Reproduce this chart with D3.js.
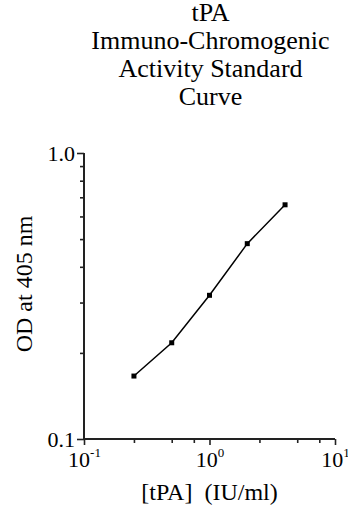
<!DOCTYPE html>
<html>
<head>
<meta charset="utf-8">
<script src="https://cdn.jsdelivr.net/npm/d3@7"></script>
<style>
  body { margin: 0; background: #fff; }
  svg { display: block; font-family: "Liberation Serif", "Times New Roman", serif; }
</style>
</head>
<body>
<svg id="chart" width="348" height="514"></svg>
<script>
// tPA concentration (IU/ml) and OD at 405 nm
const conc = [0.25, 0.5, 1, 2, 4];
const od = [0.166, 0.217, 0.318, 0.482, 0.659];

const titleLines = ["tPA", "Immuno-Chromogenic", "Activity Standard", "Curve"];
const xMajor = [0.1, 1, 10];
const xExp = ["-1", "0", "1"];
const xMinor = [0.25, 0.5, 0.75, 2.5, 5, 7.5];
const yMajor = [0.1, 1];
const yMinor = [0.2, 0.3, 0.4, 0.5, 0.6, 0.7, 0.8, 0.9];

const svg = d3.select("#chart");
const plotL = 84, plotR = 335, plotT = 153, plotB = 439;

const x = d3.scaleLog().domain([0.1, 10]).range([plotL, plotR]);
const y = d3.scaleLog().domain([0.1, 1]).range([plotB, plotT]);

const axisColor = "#222";

// title
svg.append("text")
  .attr("text-anchor", "middle")
  .attr("font-size", 26)
  .selectAll("tspan")
  .data(titleLines)
  .join("tspan")
  .attr("x", (plotL + plotR) / 2 + 1)
  .attr("y", (d, i) => 21 + i * 28)
  .text(d => d);

// minor ticks first
const yMinorAxis = svg.append("g")
  .attr("transform", `translate(${plotL},0)`)
  .call(d3.axisLeft(y).tickValues(yMinor).tickSize(4).tickFormat(""));
const xMinorAxis = svg.append("g")
  .attr("transform", `translate(0,${plotB})`)
  .call(d3.axisBottom(x).tickValues(xMinor).tickSize(4).tickFormat(""));

const yAxis = svg.append("g")
  .attr("transform", `translate(${plotL},0)`)
  .call(d3.axisLeft(y).tickValues(yMajor).tickSize(7).tickPadding(2).tickFormat(d3.format(".1f")));

const xAxis = svg.append("g")
  .attr("transform", `translate(0,${plotB})`)
  .call(d3.axisBottom(x).tickValues(xMajor).tickSize(6).tickPadding(6).tickFormat(""));

[yMinorAxis, xMinorAxis, yAxis, xAxis].forEach(g => {
  g.select(".domain").remove();
  g.selectAll("line").attr("stroke", axisColor).attr("stroke-width", 1.6);
});

yAxis.selectAll("text")
  .attr("font-family", "Liberation Serif")
  .attr("font-size", 22)
  .attr("fill", "#000");

// x labels with superscript exponent
xAxis.selectAll(".tick text")
  .attr("font-family", "Liberation Serif")
  .attr("font-size", 22)
  .attr("fill", "#000")
  .attr("dy", "0.71em")
  .each(function(d, i) {
    const t = d3.select(this);
    t.append("tspan").text("10");
    t.append("tspan").attr("font-size", 13).attr("dy", "-0.75em").text(xExp[i]);
  });

// axis lines
svg.append("line")
  .attr("x1", plotL).attr("x2", plotL)
  .attr("y1", y(1)).attr("y2", y(0.1) + 1)
  .attr("stroke", axisColor).attr("stroke-width", 2);
svg.append("line")
  .attr("x1", x(0.1) - 1).attr("x2", x(10))
  .attr("y1", plotB).attr("y2", plotB)
  .attr("stroke", axisColor).attr("stroke-width", 2);

// axis titles
svg.append("text")
  .attr("text-anchor", "middle")
  .attr("font-size", 24)
  .attr("x", (plotL + plotR) / 2)
  .attr("y", 500)
  .attr("xml:space", "preserve")
  .text("[tPA]  (IU/ml)");

svg.append("text")
  .attr("text-anchor", "middle")
  .attr("font-size", 24)
  .attr("transform", `translate(32,284) rotate(-90)`)
  .text("OD at 405 nm");

// curve
const pts = conc.map((c, i) => [c, od[i]]);
svg.append("path")
  .datum(pts)
  .attr("fill", "none")
  .attr("stroke", "#000")
  .attr("stroke-width", 1.5)
  .attr("d", d3.line().x(d => x(d[0])).y(d => y(d[1])));

svg.selectAll("rect.pt")
  .data(pts)
  .join("rect")
  .attr("class", "pt")
  .attr("x", d => x(d[0]) - 2.5)
  .attr("y", d => y(d[1]) - 2.5)
  .attr("width", 5)
  .attr("height", 5)
  .attr("fill", "#000");
</script>
</body>
</html>
